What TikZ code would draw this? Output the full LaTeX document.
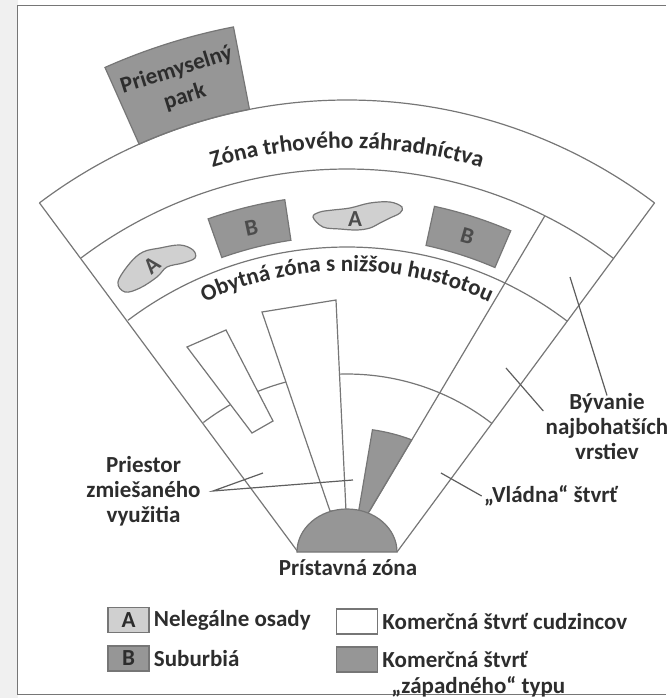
\documentclass[tikz,border=0pt]{standalone}
\usepackage{fontspec}
\setmainfont{Carlito}
\usetikzlibrary{positioning,decorations.text}
\definecolor{zonegray}{RGB}{118,118,118}
\definecolor{darkfill}{RGB}{150,150,150}
\definecolor{lightfill}{RGB}{208,208,208}
\definecolor{inktext}{RGB}{45,45,45}
\definecolor{sidegray}{RGB}{240,240,240}

\begin{document}
\begin{tikzpicture}[x=0.5pt, y=0.5pt,
  font=\fontsize{11.5}{12.5}\selectfont\bfseries,
  zline/.style={draw=zonegray, line width=0.6pt},
  darkpatch/.style={zline, fill=darkfill},
  lightpatch/.style={zline, fill=lightfill},
  whitebar/.style={zline, fill=white},
  lab/.style={text=inktext, align=center, inner sep=1pt},
  tag/.style={text=inktext!85, inner sep=0pt},
  leader/.style={draw=zonegray!80!black, line width=0.6pt},
  legbox/.style={zline, minimum width=20.5pt, minimum height=12.5pt,
                 inner sep=0pt, text=inktext}]

\useasboundingbox (-347,-87) rectangle (319,611);
\fill[sidegray] (-347,-87) rectangle (-329,611);
\draw[zonegray, line width=0.5pt] (319,606) -- (-329,606) -- (-329,-83) -- (319,-83);

% industrial park behind the outer ring
\draw[darkpatch] (114:511) arc[start angle=114, end angle=101, radius=511]
  -- (101:595) arc[start angle=101, end angle=114, radius=595] -- cycle;
\node[lab, rotate=17.5, font=\fontsize{11.5}{14}\selectfont\bfseries]
  (park) at (107.5:553) {Priemyselný\\park};

% rings and sector edges
\foreach \r/\s/\e in {511/127/53, 442/127/52.9, 364/127/52.8, 237/127.3/52.3}
  \draw[zline] (\s:\r) arc[start angle=\s, end angle=\e, radius=\r];
\coordinate (pl) at (-49,59);
\coordinate (pr) at (50,59);
\draw[zline] (pl) -- (127:511);
\draw[zline] (pr) -- (53:511);
\draw[zline] (22,99) -- (63.4:442);

% foreign commercial strips
\draw[whitebar] (-160,264) -- (-121,281) -- (-74,190) -- (-95,178) -- cycle;
\draw[whitebar] (-85,299) -- (-11,311) -- (-1,100) -- (-17,100) -- cycle;

% western commercial wedge and port
\draw[darkpatch] (11,96) -- (82:183) arc[start angle=82, end angle=69.3, radius=183]
  -- (20,96) -- cycle;
\draw[darkpatch] (-50,59) arc[start angle=180, end angle=0, x radius=50, y radius=43] -- cycle;

% suburbs
\draw[darkpatch] (109.5:416) arc[start angle=109.5, end angle=98.6, radius=416]
  -- (98.6:375) arc[start angle=98.6, end angle=109.5, radius=375] -- cycle;
\draw[darkpatch] (77.8:414) arc[start angle=77.8, end angle=66.7, radius=414]
  -- (66.7:374) arc[start angle=66.7, end angle=77.8, radius=374] -- cycle;
\node[tag, rotate=12] (b1) at (104:395) {B};
\node[tag, rotate=-16] (b2) at (72.2:394) {B};

% illegal settlements
\draw[lightpatch] plot[smooth cycle, tension=0.6] coordinates {(-229,329) (-217,348)
  (-204,359) (-187,363) (-167,366) (-154,361) (-152,353) (-164,348) (-180,344)
  (-190,334) (-207,323) (-222,319)};
\draw[lightpatch] plot[smooth cycle, tension=0.6] coordinates {(-34,394) (-27,399)
  (-14,401) (3,403) (23,408) (43,409) (55,404) (53,398) (43,393) (33,388) (23,383)
  (10,381) (-7,382) (-24,384)};
\node[tag, rotate=40] (a1) at (-195,346) {A};
\node[tag] (a2) at (8,392) {A};

% curved zone names
\path[decorate, decoration={text along path, text align=center, text color=inktext,
  text={|\fontsize{11.7}{12}\selectfont\bfseries|Zóna trhového záhradníctva}}]
  (120:463) arc[start angle=120, end angle=60, radius=463];
\path[decorate, decoration={text along path, text align=center, text color=inktext,
  text={|\fontsize{11.5}{12}\selectfont\bfseries|Obytná zóna s nižšou hustotou}}]
  (125:340) arc[start angle=125, end angle=55, radius=340];

% labels and leaders
\node[lab] (priestor) at (-203.5,120) {Priestor\\zmiešaného\\využitia};
\node[lab] (vladna) at (204,115) {„Vládna“ štvrť};
\node[lab] (byvanie) at (260,184) {Bývanie\\najbohatších\\vrstiev};
\node[lab] (pristav) at (1,43) {Prístavná zóna};

\coordinate (mixO) at ([xshift=5pt]priestor.east);
\coordinate (mixA) at (-84,138);
\coordinate (mixB) at (6,131);
\coordinate (gov) at (94,138);
\coordinate (richA) at (223,334);
\coordinate (richB) at (159,243);
\draw[leader] (mixA) -- (mixO) -- (mixB);
\draw[leader] (gov) -- (vladna.west);
\draw[leader] (richA) -- ([yshift=-2pt]byvanie.north);
\draw[leader] (richB) -- ([yshift=8pt]byvanie.west);

% legend
\node[legbox, fill=lightfill] (keyA) at (-218.5,-9) {A};
\node[lab, right=1pt of keyA] (keyAt) {Nelegálne osady};
\node[legbox, fill=darkfill] (keyB) at (-218.5,-47.5) {B};
\node[lab, right=1pt of keyB] (keyBt) {Suburbiá};
\node[legbox, fill=white] (keyW) at (10,-10.5) {};
\node[lab, right=1pt of keyW] (keyWt) {Komerčná štvrť cudzincov};
\node[legbox, fill=darkfill] (keyG) at (10,-48.5) {};
\node[lab, right=1pt of keyG] (keyGt) {Komerčná štvrť};
\node[lab, anchor=west] (keyGt2) at (42,-76) {„západného“ typu};
\end{tikzpicture}
\end{document}
